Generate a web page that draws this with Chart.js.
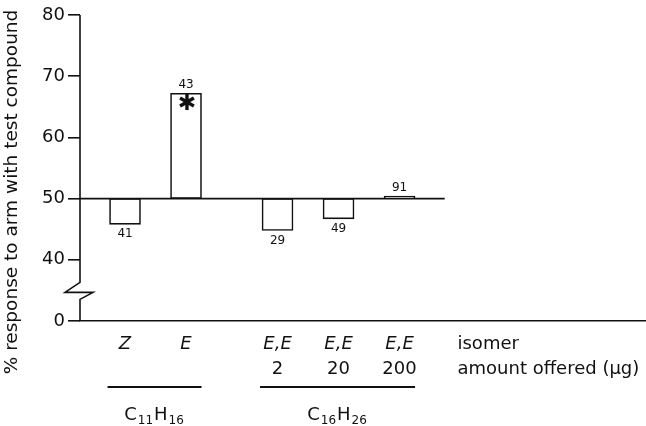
<!DOCTYPE html>
<html lang="en">
<head>
<meta charset="UTF-8" />
<title>Response to test compounds</title>
<script src="https://cdn.jsdelivr.net/npm/chart.js"></script>
<style>
  * { margin: 0; padding: 0; box-sizing: border-box; }
  body { background: #fff; width: 646px; height: 426px; overflow: hidden; }
  canvas { display: block; }
</style>
</head>
<body>
<canvas id="chart" width="646" height="426"></canvas>
<script>
// --- values ---
const isomers     = ['Z', 'E', 'E,E', 'E,E', 'E,E'];
const amounts     = ['', '', '2', '20', '200'];
const groupOf     = [0, 0, 1, 1, 1];
const groups      = ['C11H16', 'C16H26'];
const responses   = [45.8, 67.2, 44.8, 46.7, 50.4];   // % response to test arm
const nTested     = [41, 43, 29, 49, 91];
const significant = [false, true, false, false, false];
const yTicks      = [0, 40, 50, 60, 70, 80];
const rowNames    = ['isomer', 'amount offered (\u00b5g)'];
const NEUTRAL = 50;

// broken axis: 0 is drawn one step below 40
const ZERO_AT = 30;
const toPlot = v => (v === 0 ? ZERO_AT : v);

// bar positions: one unit per bar, half a unit between compound groups
const xPos = isomers.map((_, i) => i + 1 + 0.5 * groupOf[i]);

const INK = '#111';
const FONT = '"DejaVu Sans", sans-serif';

const annotate = {
  id: 'annotate',
  afterDatasetsDraw(chart) {
    const { ctx, chartArea, scales: { x, y } } = chart;
    const bars = chart.getDatasetMeta(0).data;
    const y50 = y.getPixelForValue(NEUTRAL);
    const lastX = xPos[xPos.length - 1];
    ctx.save();
    ctx.strokeStyle = INK;
    ctx.fillStyle = INK;

    // 50 % reference line
    ctx.lineWidth = 1.8;
    ctx.beginPath();
    ctx.moveTo(chartArea.left, y50);
    ctx.lineTo(x.getPixelForValue(lastX + 0.74), y50);
    ctx.stroke();

    // y axis with break
    const yb = y.getPixelForValue(35);
    ctx.lineWidth = 1.6;
    ctx.beginPath();
    ctx.moveTo(chartArea.left, chartArea.top);
    ctx.lineTo(chartArea.left, yb - 8);
    ctx.lineTo(chartArea.left - 15, yb + 2);
    ctx.lineTo(chartArea.left + 13, yb + 2);
    ctx.lineTo(chartArea.left, yb + 9);
    ctx.lineTo(chartArea.left, chartArea.bottom);
    ctx.stroke();

    // n above / below bars, asterisk for significance
    ctx.textAlign = 'center';
    ctx.font = '12px ' + FONT;
    bars.forEach((b, i) => {
      const top = Math.min(b.y, b.base), bottom = Math.max(b.y, b.base);
      const up = responses[i] >= NEUTRAL;
      ctx.textBaseline = up ? 'bottom' : 'top';
      ctx.fillText(String(nTested[i]), b.x, up ? top - 2 : bottom + 4);
      if (significant[i]) {
        ctx.textBaseline = 'middle';
        ctx.font = 'bold 22px ' + FONT;
        ctx.fillText('\u2731', b.x + 1, top + 11);
        ctx.font = '12px ' + FONT;
      }
    });

    // category rows under the axis
    const base = chartArea.bottom;
    ctx.textBaseline = 'middle';
    bars.forEach((b, i) => {
      ctx.font = 'oblique 18px ' + FONT;
      ctx.fillText(isomers[i], b.x, base + 23);
      ctx.font = '18px ' + FONT;
      if (amounts[i]) ctx.fillText(amounts[i], b.x, base + 48);
    });
    ctx.textAlign = 'left';
    ctx.font = '18px ' + FONT;
    const rx = x.getPixelForValue(lastX + 0.95);
    ctx.fillText(rowNames[0], rx, base + 23);
    ctx.fillText(rowNames[1], rx, base + 48);

    // compound groups: underline + formula with subscripts
    groups.forEach((g, gi) => {
      const members = bars.filter((_, i) => groupOf[i] === gi);
      const l = Math.min(...members.map(b => b.x - b.width / 2)) - 2;
      const r = Math.max(...members.map(b => b.x + b.width / 2));
      ctx.lineWidth = 2;
      ctx.beginPath();
      ctx.moveTo(l, base + 66);
      ctx.lineTo(r, base + 66);
      ctx.stroke();
      const parts = g.match(/[A-Z][a-z]?|\d+/g);
      const big = '18px ' + FONT, small = '12px ' + FONT;
      let w = 0;
      parts.forEach(p => { ctx.font = /\d/.test(p) ? small : big; w += ctx.measureText(p).width + 1; });
      let cx = (l + r) / 2 - w / 2;
      ctx.textBaseline = 'alphabetic';
      parts.forEach(p => {
        const sub = /\d/.test(p);
        ctx.font = sub ? small : big;
        ctx.fillText(p, cx, base + 99 + (sub ? 4 : 0));
        cx += ctx.measureText(p).width + 1;
      });
    });

    // y axis title
    ctx.translate(12, 192);
    ctx.rotate(-Math.PI / 2);
    ctx.textAlign = 'center';
    ctx.textBaseline = 'middle';
    ctx.font = '18.5px ' + FONT;
    ctx.fillText('% response to arm with test compound', 0, 0);
    ctx.restore();
  }
};

new Chart(document.getElementById('chart'), {
  type: 'bar',
  data: {
    datasets: [{
      data: responses.map((v, i) => ({ x: xPos[i], y: [NEUTRAL, v] })),
      backgroundColor: '#fff',
      borderColor: INK,
      borderWidth: 1.6,
      borderSkipped: false,
      barThickness: 31
    }]
  },
  options: {
    responsive: false,
    animation: false,
    devicePixelRatio: 1,
    layout: { padding: { top: 15, left: 0, right: 0, bottom: 0 } },
    plugins: { legend: { display: false }, tooltip: { enabled: false } },
    scales: {
      x: {
        type: 'linear',
        offset: false,
        min: 0.262,
        max: 9.54,
        ticks: { display: false },
        grid: { display: false },
        border: { display: true, color: INK, width: 1.6 },
        afterFit: s => { s.height = 105; }
      },
      y: {
        min: ZERO_AT,
        max: 80,
        afterBuildTicks: s => { s.ticks = yTicks.map(v => ({ value: toPlot(v) })); },
        ticks: {
          color: INK,
          padding: 3,
          font: { family: FONT, size: 18 },
          callback: (v, i) => String(yTicks[i])
        },
        grid: { drawOnChartArea: false, drawTicks: true, tickLength: 12, color: INK, lineWidth: 1.6 },
        border: { display: false },
        afterFit: s => { s.width = 80; }
      }
    }
  },
  plugins: [annotate]
});
</script>
</body>
</html>
